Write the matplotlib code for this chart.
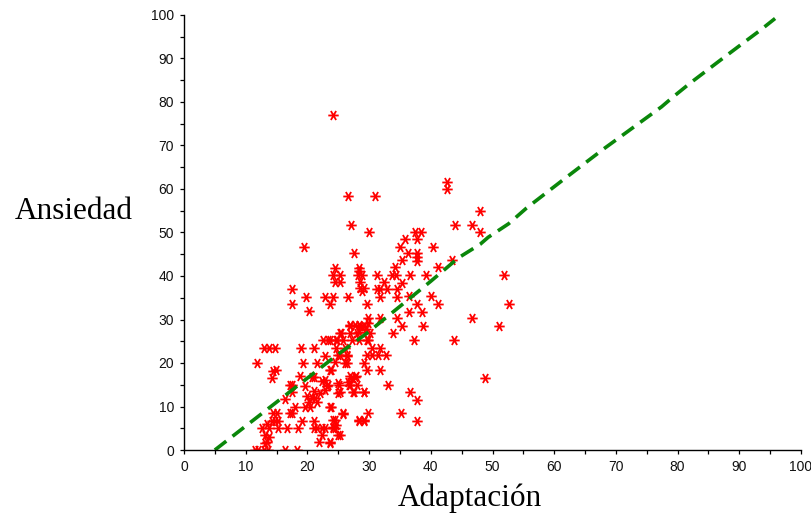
import matplotlib
matplotlib.use("Agg")
import matplotlib.pyplot as plt
from matplotlib.path import Path
from matplotlib.ticker import MultipleLocator

# Scatter data: Adaptación (x) vs Ansiedad (y)
adaptacion = [
    24.2, 26.5, 31.0, 42.6, 42.6, 27.1, 30.0, 19.5, 27.6,
    35.8, 35.0, 37.7, 37.5, 38.4, 40.4, 36.3, 37.7, 37.7, 35.3, 37.7, 43.4,
    34.2, 41.2, 48.0, 43.9, 46.7, 48.0,
    33.7, 34.4, 36.6, 39.2, 31.2, 51.9, 35.3, 32.4,
    24.5, 24.1, 25.3, 24.5, 25.3,
    28.4, 28.4, 28.2, 28.8, 28.5, 28.5, 29.2, 28.8,
    31.2, 31.7, 32.9, 34.5, 31.8, 34.6, 36.4, 40.0,
    17.5, 17.5, 19.8, 20.3, 22.9, 24.1, 23.7, 26.5,
    29.7, 37.7, 41.1, 52.6, 36.4, 38.5,
    34.5, 29.9, 31.8, 46.7, 35.3, 38.7, 51.1,
    33.8, 37.2, 43.8, 48.8,
    36.6, 37.7, 37.7, 35.1, 33.0,
    26.9, 28.3, 28.8, 28.3, 29.9, 25.3, 26.9, 23.4, 24.7, 25.8, 27.2, 29.9,
    26.1, 25.3, 26.4, 26.1, 24.5, 23.7,
    29.6, 30.4, 31.8, 30.4, 31.5, 32.8, 29.1, 29.6, 31.8,
    22.9, 23.2, 22.9, 25.0, 26.6, 27.2, 27.7, 26.9,
    25.3, 27.4, 29.1, 23.7, 25.8, 28.3, 29.1,
    24.5, 24.2, 24.5, 22.9, 25.0, 23.7,
    12.9, 13.7, 14.7, 19.0, 21.0, 11.8, 14.5, 14.9, 14.2,
    19.3, 21.5, 22.6, 23.7, 24.6, 22.9, 25.0, 26.4, 26.4, 23.9,
    21.0, 20.7, 18.8, 17.1, 17.5, 17.5, 16.4, 18.0, 19.6, 20.4,
    19.6, 20.0, 20.8, 21.3, 20.3, 21.6, 21.0, 22.0, 22.3, 23.4,
    17.1, 17.5, 15.0, 14.5, 14.2, 14.7, 15.3, 13.5,
    12.7, 13.7, 15.2, 13.2, 13.7, 13.4, 13.1,
    16.7, 18.5, 19.1, 21.0, 21.0, 21.5, 22.3, 22.3, 21.8, 23.7,
    24.2, 24.7, 24.2, 25.3, 25.7, 23.8,
    28.4, 29.1, 29.9, 27.6, 28.0, 26.8, 29.1, 26.9, 27.9, 25.2, 25.0,
    11.5, 12.0, 12.9, 13.6, 16.4, 18.3,
    27.7, 28.0, 26.9, 28.6, 29.1, 29.5, 30.1, 28.3, 29.6, 24.8, 25.4,
]
ansiedad = [
    76.9, 58.4, 58.4, 61.7, 59.9, 51.7, 50.0, 46.7, 45.2,
    48.4, 46.7, 48.4, 50.0, 50.0, 46.7, 45.2, 45.2, 44.3, 43.7, 43.5, 43.7,
    42.0, 42.0, 55.0, 51.7, 51.7, 50.0,
    40.2, 40.2, 40.2, 40.2, 40.2, 40.2, 38.5, 38.7,
    41.9, 40.2, 40.2, 38.7, 38.7,
    41.9, 41.2, 40.2, 40.2, 38.7, 37.2, 37.2, 36.6,
    36.9, 36.9, 36.9, 36.9, 35.2, 35.2, 35.4, 35.4,
    36.9, 33.6, 35.2, 32.0, 35.2, 35.2, 33.6, 35.2,
    33.6, 33.6, 33.6, 33.6, 31.8, 31.8,
    30.3, 30.3, 30.3, 30.3, 28.6, 28.6, 28.6,
    27.0, 25.3, 25.3, 16.6,
    13.3, 11.6, 6.7, 8.4, 14.9,
    28.5, 28.7, 28.3, 27.2, 29.1, 26.8, 26.8, 25.3, 25.3, 25.3, 25.3, 25.3,
    23.4, 21.8, 21.8, 19.9, 20.3, 18.4,
    21.8, 23.4, 23.4, 21.8, 21.8, 21.8, 19.9, 18.4, 18.4,
    16.1, 14.6, 13.8, 15.3, 15.7, 16.5, 16.8, 14.9,
    13.4, 13.4, 13.4, 10.0, 8.2, 6.9, 6.9,
    6.9, 5.4, 5.0, 5.0, 3.4, 1.7,
    23.4, 23.4, 23.4, 23.4, 23.4, 19.9, 18.2, 18.4, 16.6,
    19.9, 20.1, 25.3, 25.3, 23.4, 21.6, 21.8, 21.6, 20.1, 18.4,
    16.8, 16.8, 16.9, 14.9, 14.9, 13.3, 11.7, 10.0, 10.0, 10.0,
    14.7, 12.5, 12.0, 12.0, 11.0, 11.0, 13.5, 13.0, 15.8, 14.9,
    8.4, 8.4, 8.4, 8.5, 6.7, 6.7, 6.7, 6.0,
    5.0, 5.0, 5.0, 3.4, 3.0, 1.8, 1.5,
    5.0, 5.0, 6.7, 6.7, 5.0, 5.0, 5.0, 3.4, 1.8, 1.8,
    5.0, 5.7, 6.9, 3.4, 8.4, 10.0,
    6.7, 6.7, 8.4, 13.3, 14.9, 14.9, 13.3, 16.9, 16.9, 14.9, 13.0,
    0.0, 0.0, 0.0, 0.0, 0.0, 0.0,
    28.7, 26.8, 28.7, 28.5, 28.5, 27.8, 26.8, 25.3, 25.3, 25.3, 26.8,
]

# Fitted (smoothed) line
fit_x = [5, 15, 24.5, 29.6, 35.5, 40, 44.5, 48, 49.3, 52.6, 55.5, 61.8,
         68, 71.5, 77.4, 79.3, 82, 87.1, 90.1, 93.4, 95.8]
fit_y = [0, 11.0, 21.5, 26.8, 33.6, 38.8, 44.2, 47.3, 48.9, 52.0, 55.6, 62.5,
         69.2, 72.8, 78.9, 81.2, 84.3, 89.8, 93.0, 96.5, 99.2]

ticks = list(range(0, 101, 10))

fig = plt.figure(figsize=(8.11, 5.15), dpi=100)
ax = fig.add_axes([184 / 811, 1 - 450 / 515, (801 - 184) / 811, (450 - 15) / 515])

# asterisk marker: horizontal bar plus two diagonals
s = 0.866
verts = [(-1, 0), (1, 0), (-0.5, -s), (0.5, s), (-0.5, s), (0.5, -s)]
codes = [Path.MOVETO, Path.LINETO] * 3
star = Path(verts, codes)

ax.plot(adaptacion, ansiedad, linestyle="none", marker=star, markersize=7.5,
        markeredgewidth=1.3, markeredgecolor="#ff0000", markerfacecolor="none")

ax.plot(fit_x, fit_y, color="#0a870a", linewidth=2.6, dashes=(4.0, 2.2),
        solid_capstyle="butt", dash_capstyle="butt")

ax.set_xlim(0, 100)
ax.set_ylim(0, 100)
ax.set_xticks(ticks)
ax.set_yticks(ticks)
ax.xaxis.set_minor_locator(MultipleLocator(5))
ax.yaxis.set_minor_locator(MultipleLocator(5))
for sp in ("top", "right"):
    ax.spines[sp].set_visible(False)
for sp in ("left", "bottom"):
    ax.spines[sp].set_linewidth(1.0)
    ax.spines[sp].set_color("black")
ax.tick_params(which="both", direction="out", length=3.2, width=0.9, color="black")
ax.tick_params(which="major", labelsize=10, pad=4)
for lab in ax.get_xticklabels() + ax.get_yticklabels():
    lab.set_family("Liberation Sans")
    lab.set_color("#111111")

fig.text(15 / 811, 1 - 219 / 515, "Ansiedad", family="Liberation Serif",
         fontsize=22.5, ha="left", va="baseline")
fig.text(470 / 811, 1 - 506 / 515, "Adaptación", family="Liberation Serif",
         fontsize=22.5, ha="center", va="baseline")

fig.savefig("out.png", dpi=100)
